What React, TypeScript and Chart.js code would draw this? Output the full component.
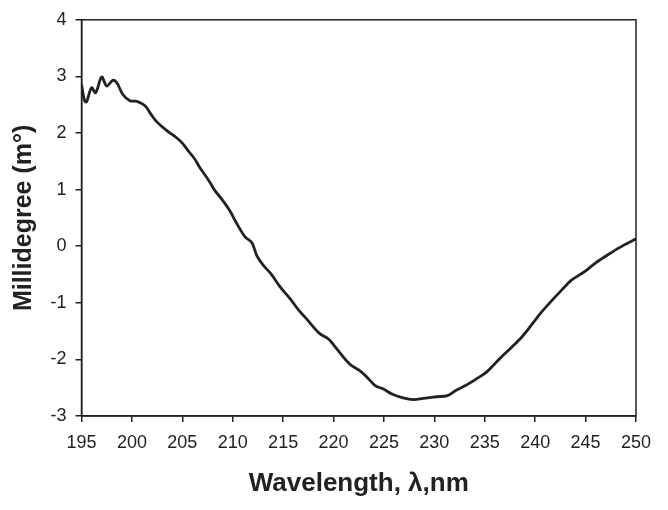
import React, { useEffect, useRef } from "react";
import { Chart, registerables } from "chart.js";

Chart.register(...registerables);

const wavelengths = [
  195.0, 195.3, 195.5, 196.0, 196.4, 197.0, 197.5, 198.1, 198.5, 199.1, 199.8,
  200.5, 201.3, 201.9, 202.4, 203.4, 204.4, 205.0, 205.7, 206.2, 206.7, 207.7,
  208.2, 209.0, 209.7, 210.4, 211.2, 211.9, 212.4, 213.0, 213.8, 214.7, 215.7,
  216.5, 217.3, 218.6, 219.5, 220.3, 221.6, 222.6, 223.3, 224.1, 224.9, 225.9,
  226.9, 227.9, 228.9, 230.2, 231.3, 232.2, 233.2, 234.2, 235.2, 236.4, 237.7,
  238.7, 239.6, 240.6, 241.6, 242.6, 243.6, 244.9, 246.1, 247.4, 248.7, 250.0,
];
const millidegree = [
  2.86, 2.57, 2.55, 2.8, 2.71, 2.99, 2.83, 2.93, 2.89, 2.68, 2.57,
  2.56, 2.48, 2.33, 2.21, 2.05, 1.92, 1.82, 1.66, 1.55, 1.4, 1.14,
  0.99, 0.81, 0.63, 0.4, 0.17, 0.06, -0.17, -0.33, -0.49, -0.72, -0.93,
  -1.12, -1.28, -1.54, -1.64, -1.81, -2.08, -2.2, -2.31, -2.46, -2.52, -2.62,
  -2.68, -2.71, -2.69, -2.66, -2.64, -2.54, -2.45, -2.34, -2.22, -2.0, -1.78,
  -1.6, -1.4, -1.17, -0.97, -0.78, -0.6, -0.45, -0.28, -0.13, 0.01, 0.13,
];
const xTicks = [195, 200, 205, 210, 215, 220, 225, 230, 235, 240, 245, 250];
const yTicks = [-3, -2, -1, 0, 1, 2, 3, 4];

const FONT = "'Liberation Sans', Arial, Helvetica, sans-serif";
const INK = "#222222";

const frame = {
  id: "frame",
  afterDraw(chart: any) {
    const { ctx, chartArea } = chart;
    ctx.save();
    ctx.strokeStyle = INK;
    ctx.lineWidth = 1.5;
    ctx.strokeRect(chartArea.left, chartArea.top, chartArea.right - chartArea.left, chartArea.bottom - chartArea.top);
    ctx.restore();
  },
};

export default function App() {
  const ref = useRef<HTMLCanvasElement | null>(null);
  useEffect(() => {
    document.body.style.margin = "0";
    const chart = new Chart(ref.current as HTMLCanvasElement, {
      type: "line",
      data: {
        datasets: [
          {
            data: wavelengths.map((x, i) => ({ x, y: millidegree[i] })),
            borderColor: INK,
            borderWidth: 2.8,
            pointRadius: 0,
            tension: 0.35,
            fill: false,
          },
        ],
      },
      options: {
        animation: false,
        responsive: false,
        maintainAspectRatio: false,
        layout: { padding: { top: 18, right: 32, left: 0, bottom: 0 } },
        plugins: { legend: { display: false }, tooltip: { enabled: false } },
        scales: {
          x: {
            type: "linear",
            min: 195,
            max: 250,
            afterBuildTicks: (s: any) => {
              s.ticks = xTicks.map((v) => ({ value: v }));
            },
            afterFit: (s: any) => {
              s.height = 94;
            },
            grid: { drawOnChartArea: false, drawTicks: true, tickLength: 6, color: INK, lineWidth: 1.5 },
            border: { display: true, color: INK, width: 1.5 },
            ticks: { color: INK, padding: 10, font: { family: FONT, size: 18 }, maxRotation: 0 },
            title: {
              display: true,
              text: "Wavelength, λ,nm",
              color: INK,
              font: { family: FONT, size: 26, weight: "bold" },
              padding: { top: 0, bottom: 11 },
            },
          },
          y: {
            type: "linear",
            min: -3,
            max: 4,
            afterBuildTicks: (s: any) => {
              s.ticks = yTicks.map((v) => ({ value: v }));
            },
            afterFit: (s: any) => {
              s.width = 81.5;
            },
            grid: { drawOnChartArea: false, drawTicks: true, tickLength: 6, color: INK, lineWidth: 1.5 },
            border: { display: true, color: INK, width: 1.5 },
            ticks: { color: INK, padding: 9, font: { family: FONT, size: 18 } },
            title: {
              display: true,
              text: "Millidegree (m°)",
              color: INK,
              font: { family: FONT, size: 25, weight: "bold" },
              padding: { top: 9, bottom: 0 },
            },
          },
        },
      },
      plugins: [frame],
    } as any);
    return () => chart.destroy();
  }, []);
  return (
    <div style={{ width: 668, height: 510, background: "#fff" }}>
      <canvas ref={ref} width={668} height={510} />
    </div>
  );
}
